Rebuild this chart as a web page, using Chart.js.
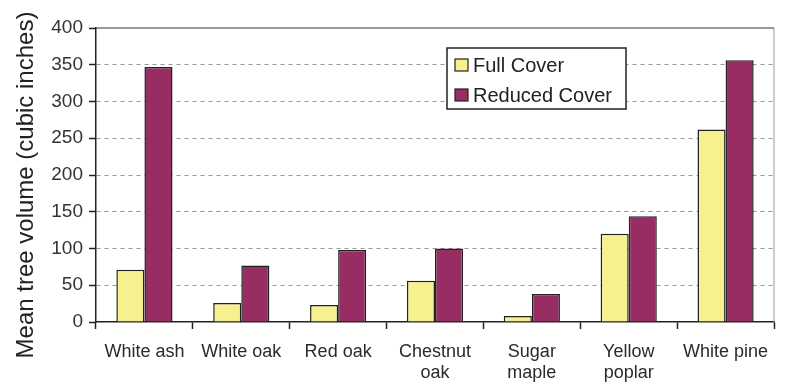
<!DOCTYPE html>
<html lang="en">
  <head>
    <meta charset="UTF-8" />
    <title>Mean tree volume</title>
    <script src="https://cdn.jsdelivr.net/npm/chart.js"></script>
    <style>
      body {
        margin: 0;
        background: #ffffff;
      }
      .wrap {
        width: 800px;
        height: 392px;
      }
    </style>
  </head>
  <body>
    <div class="wrap"><canvas id="chart" width="800" height="392"></canvas></div>

    <script>
      const species = ['White ash', 'White oak', 'Red oak', ['Chestnut', 'oak'], ['Sugar', 'maple'], ['Yellow', 'poplar'], 'White pine']
      const fullCover = [71, 26, 23, 56, 8, 120, 262]
      const reducedCover = [347, 77, 98, 100, 38, 144, 356]
      const yTicks = [0, 50, 100, 150, 200, 250, 300, 350, 400]
      const yTitle = 'Mean tree volume (cubic inches)'

      const font = 'Arial, "Liberation Sans", sans-serif'

      // рамка области графика, подпись оси Y и легенда внутри графика
      const framePlugin = {
        id: 'frame',
        beforeDatasetsDraw(chart) {
          const { ctx, chartArea: a } = chart
          ctx.save()
          ctx.strokeStyle = '#999999'
          ctx.lineWidth = 1
          ctx.beginPath()
          ctx.moveTo(a.right, a.bottom)
          ctx.lineTo(a.right, a.top)
          ctx.stroke()
          ctx.strokeStyle = '#333333'
          ctx.beginPath()
          ctx.moveTo(a.left, a.top)
          ctx.lineTo(a.right, a.top)
          ctx.stroke()
          ctx.restore()
        },
        afterDraw(chart) {
          const { ctx } = chart
          ctx.save()
          ctx.translate(33, 185)
          ctx.rotate(-Math.PI / 2)
          ctx.font = '24px ' + font
          ctx.fillStyle = '#222222'
          ctx.textAlign = 'center'
          ctx.textBaseline = 'alphabetic'
          ctx.fillText(yTitle, 0, 0)
          ctx.restore()

          const x = 447, y = 48, w = 179, h = 61
          ctx.save()
          ctx.fillStyle = '#ffffff'
          ctx.fillRect(x, y, w, h)
          ctx.strokeStyle = '#222222'
          ctx.lineWidth = 1.5
          ctx.strokeRect(x, y, w, h)
          ctx.font = '20px ' + font
          ctx.textBaseline = 'middle'
          chart.data.datasets.forEach((ds, i) => {
            const cy = y + 17 + i * 30
            ctx.fillStyle = ds.backgroundColor
            ctx.fillRect(x + 8, cy - 6, 13, 12)
            ctx.strokeStyle = '#222222'
            ctx.lineWidth = 1.2
            ctx.strokeRect(x + 8, cy - 6, 13, 12)
            ctx.fillStyle = '#222222'
            ctx.fillText(ds.label, x + 26, cy + 1)
          })
          ctx.restore()
        },
      }

      new Chart(document.getElementById('chart'), {
        type: 'bar',
        data: {
          labels: species,
          datasets: [
            {
              label: 'Full Cover',
              data: fullCover,
              backgroundColor: '#f6f08e',
              borderColor: '#222222',
              borderWidth: 1.5,
              borderSkipped: 'bottom',
            },
            {
              label: 'Reduced Cover',
              data: reducedCover,
              backgroundColor: '#972d62',
              borderColor: '#222222',
              borderWidth: 1.5,
              borderSkipped: 'bottom',
            },
          ],
        },
        options: {
          responsive: false,
          animation: false,
          layout: { padding: { top: 28, right: 26, left: 0, bottom: 0 } },
          plugins: {
            legend: { display: false },
            tooltip: { enabled: false },
          },
          datasets: {
            bar: { categoryPercentage: 0.58, barPercentage: 1 },
          },
          scales: {
            x: {
              grid: {
                drawOnChartArea: false,
                offset: true,
                tickLength: 7,
                tickColor: '#222222',
                tickWidth: 1.5,
              },
              border: { color: '#222222', width: 1.5 },
              ticks: {
                color: '#2a2a2a',
                font: { family: font, size: 18, lineHeight: 1.2 },
                padding: 12,
                maxRotation: 0,
                autoSkip: false,
              },
              afterFit(scale) {
                scale.height = 70
              },
            },
            y: {
              min: 0,
              max: 400,
              afterBuildTicks(scale) {
                scale.ticks = yTicks.map((v) => ({ value: v }))
              },
              grid: {
                color: (c) => (c.tick && c.tick.value > 0 && c.tick.value < 400 ? '#999999' : 'rgba(0,0,0,0)'),
                tickColor: '#222222',
                tickLength: 7,
                tickWidth: 1.5,
                tickBorderDash: [],
                lineWidth: 1,
              },
              border: { color: '#222222', width: 1.5, dash: [4, 4] },
              ticks: {
                color: '#333333',
                font: { family: font, size: 19 },
                padding: 6,
              },
              afterFit(scale) {
                scale.width = 96
              },
            },
          },
        },
        plugins: [framePlugin],
      })
    </script>
  </body>
</html>
